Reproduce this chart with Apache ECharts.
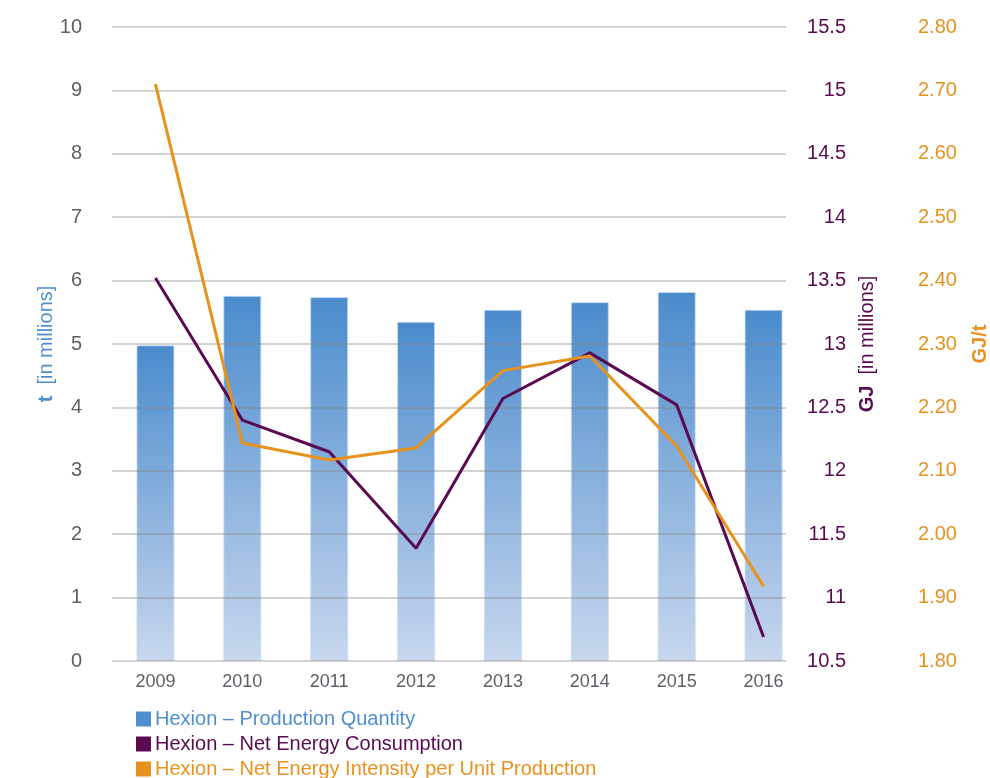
<!DOCTYPE html>
<html>
<head>
<meta charset="utf-8">
<script src="https://cdn.jsdelivr.net/npm/echarts@6/dist/echarts.min.js"></script>
<style>html,body{margin:0;padding:0;background:#fff;overflow:hidden}#c{width:990px;height:778px}</style>
</head>
<body>
<div id="c"></div>
<script>
var years = ['2009','2010','2011','2012','2013','2014','2015','2016'];
var production = [4.98, 5.76, 5.74, 5.35, 5.54, 5.66, 5.82, 5.54];
var consumption = [13.52, 12.40, 12.15, 11.39, 12.57, 12.93, 12.52, 10.69];
var intensity = [2.710, 2.144, 2.117, 2.136, 2.258, 2.281, 2.139, 1.918];
var leftTicks = {min: 0, max: 10, interval: 1};
var midTicks = {min: 10.5, max: 15.5, interval: 0.5};
var rightTicks = {min: 1.8, max: 2.8, interval: 0.1};
var names = ['Hexion – Production Quantity', 'Hexion – Net Energy Consumption', 'Hexion – Net Energy Intensity per Unit Production'];

var BLUE = '#4f8fcf', PURPLE = '#5a0a50', ORANGE = '#e8921e';
var FONT = '"Liberation Sans", Arial, Helvetica, sans-serif';
var colors = [BLUE, PURPLE, ORANGE];
var legendTops = [709, 734, 759];
var legends = names.map(function (n, i) {
  return {
    orient: 'vertical', left: 136, top: legendTops[i], itemWidth: 15, itemHeight: 15, padding: 0,
    icon: 'rect', itemStyle: {borderWidth: 0},
    textStyle: {fontSize: 20, fontFamily: FONT, color: colors[i], padding: [0, 0, 0, -1]},
    data: [{name: n, itemStyle: {color: colors[i], borderWidth: 0}}]
  };
});

var chart = echarts.init(document.getElementById('c'), null, {renderer: 'canvas'});
chart.setOption({
  animation: false,
  textStyle: {fontFamily: FONT},
  grid: [
    {left: 112, right: 183, top: 27, bottom: 117, containLabel: false, outerBoundsMode: 'none'},
    {left: 112, right: 204, top: 27, bottom: 117, containLabel: false, outerBoundsMode: 'none'}
  ],
  legend: legends,
  xAxis: [
    {type: 'category', gridIndex: 0, data: years, axisLine: {show: false}, axisTick: {show: false},
     axisLabel: {color: '#5c6066', fontSize: 18, margin: 12}},
    {type: 'category', gridIndex: 1, data: years, show: false}
  ],
  yAxis: [
    {type: 'value', gridIndex: 0, position: 'left', min: leftTicks.min, max: leftTicks.max, interval: leftTicks.interval,
     splitLine: {show: false}, axisLine: {show: false}, axisTick: {show: false},
     axisLabel: {color: '#5c6066', fontSize: 20, margin: 30},
     name: '{b|t}  [in millions]', nameLocation: 'middle', nameGap: 56, nameRotate: 90, nameMoveOverlap: false,
     nameTextStyle: {color: BLUE, fontSize: 20, rich: {b: {fontWeight: 'bold', fontSize: 20, color: BLUE}}}},
    {type: 'value', gridIndex: 0, position: 'right', min: midTicks.min, max: midTicks.max, interval: midTicks.interval,
     splitLine: {show: false}, axisLine: {show: false}, axisTick: {show: false},
     axisLabel: {color: PURPLE, fontSize: 20, margin: 39, align: 'right'},
     name: '{b|GJ}  [in millions]', nameLocation: 'middle', nameGap: 50, nameRotate: 90, nameMoveOverlap: false,
     nameTextStyle: {color: PURPLE, fontSize: 20, rich: {b: {fontWeight: 'bold', fontSize: 20, color: PURPLE}}}},
    {type: 'value', gridIndex: 0, position: 'right', min: rightTicks.min, max: rightTicks.max, interval: rightTicks.interval,
     splitLine: {show: false}, axisLine: {show: false}, axisTick: {show: false},
     axisLabel: {color: ORANGE, fontSize: 20, margin: 111, formatter: function (v) { return v.toFixed(2); }},
     name: 'GJ/t', nameLocation: 'middle', nameGap: 163, nameRotate: 90, nameMoveOverlap: false,
     nameTextStyle: {color: ORANGE, fontSize: 20, fontWeight: 'bold'}},
    {type: 'value', gridIndex: 1, min: leftTicks.min, max: leftTicks.max, interval: leftTicks.interval, z: 3,
     axisLine: {show: false}, axisTick: {show: false}, axisLabel: {show: false},
     splitLine: {show: true, lineStyle: {color: 'rgba(130,130,130,0.36)', width: 2}}}
  ],
  series: [
    {name: names[0], type: 'bar', xAxisIndex: 0, yAxisIndex: 0, data: production, barWidth: 38, z: 2,
     itemStyle: {borderColor: 'rgba(200,220,245,0.8)', borderWidth: 1,
       color: new echarts.graphic.LinearGradient(0, 0, 0, 1, [{offset: 0, color: '#4a8bcc'}, {offset: 1, color: '#c8d7ee'}])}},
    {name: names[1], type: 'line', xAxisIndex: 0, yAxisIndex: 1, data: consumption, z: 5,
     symbol: 'none', itemStyle: {color: PURPLE}, lineStyle: {color: PURPLE, width: 3}},
    {name: names[2], type: 'line', xAxisIndex: 0, yAxisIndex: 2, data: intensity, z: 5,
     symbol: 'none', itemStyle: {color: ORANGE}, lineStyle: {color: ORANGE, width: 3}}
  ]
});
</script>
</body>
</html>
